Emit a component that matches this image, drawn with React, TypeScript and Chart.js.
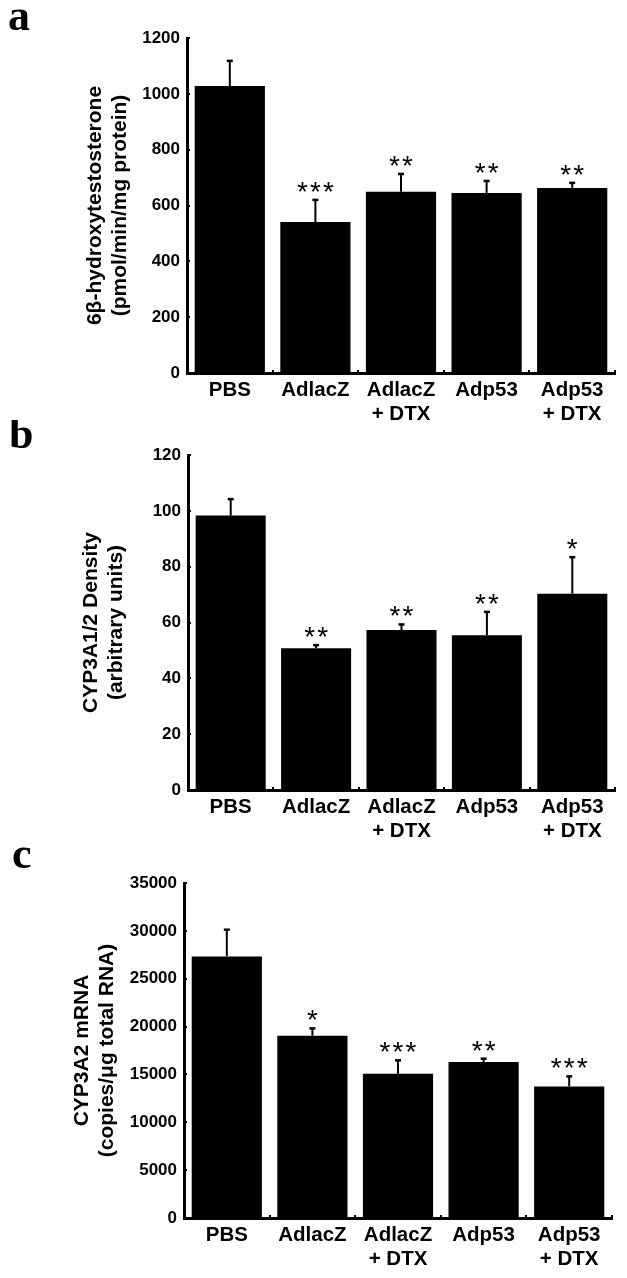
import React, { useEffect, useRef } from "react";
import { Chart, registerables } from "chart.js";

Chart.register(...registerables);

// ---------- data ----------
const categories: string[][] = [["PBS"], ["AdlacZ"], ["AdlacZ", "+ DTX"], ["Adp53"], ["Adp53", "+ DTX"]];

const hydroxyValues = [1028, 541, 649, 645, 663];
const hydroxyErrors = [90, 79, 64, 43, 18];
const hydroxySig = ["", "***", "**", "**", "**"];
const hydroxyTitle = ["6β-hydroxytestosterone", "(pmol/min/mg protein)"];
const hydroxyTicks = { min: 0, max: 1200, step: 200 };

const densityValues = [98.3, 50.8, 57.3, 55.4, 70.3];
const densityErrors = [5.9, 1.1, 2.0, 8.4, 13.1];
const densitySig = ["", "**", "**", "**", "*"];
const densityTitle = ["CYP3A1/2 Density", "(arbitrary units)"];
const densityTicks = { min: 0, max: 120, step: 20 };

const mrnaValues = [27330, 19050, 15080, 16300, 13750];
const mrnaErrors = [2790, 760, 1390, 345, 1045];
const mrnaSig = ["", "*", "***", "**", "***"];
const mrnaTitle = ["CYP3A2 mRNA", "(copies/μg total RNA)"];
const mrnaTicks = { min: 0, max: 35000, step: 5000 };

// ---------- layout ----------
const W = 627;
const SANS = '"Liberation Sans", Arial, sans-serif';

type PanelProps = {
  letter: string;
  top: number;
  height: number;
  area: { left: number; right: number; top: number; bottom: number };
  titleX: number;
  letterPos: { x: number; y: number };
  values: number[];
  errors: number[];
  sig: string[];
  title: string[];
  ticks: { min: number; max: number; step: number };
};

const errorBarPlugin = {
  id: "errorBars",
  afterDatasetsDraw(chart: any, _args: any, opts: any) {
    const ctx = chart.ctx;
    const meta = chart.getDatasetMeta(0);
    const yS = chart.scales.y;
    meta.data.forEach((bar: any, i: number) => {
      const v = opts.values[i];
      const e = opts.errors[i];
      const yTop = yS.getPixelForValue(v + e);
      const x = bar.x;
      ctx.save();
      ctx.strokeStyle = "#000";
      ctx.lineWidth = 2;
      ctx.beginPath();
      ctx.moveTo(x, bar.y);
      ctx.lineTo(x, yTop);
      ctx.stroke();
      ctx.lineWidth = 2.5;
      ctx.beginPath();
      ctx.moveTo(x - 3, yTop);
      ctx.lineTo(x + 3, yTop);
      ctx.stroke();
      const s: string = opts.sig[i];
      if (s) {
        ctx.fillStyle = "#000";
        ctx.font = `28px ${SANS}`;
        ctx.textAlign = "center";
        ctx.textBaseline = "alphabetic";
        const m = ctx.measureText("*");
        const mid = (m.actualBoundingBoxAscent - m.actualBoundingBoxDescent) / 2;
        const cy = yTop - 13;
        for (let k = 0; k < s.length; k++) {
          const sx = x + (k - (s.length - 1) / 2) * 13;
          ctx.fillText("*", sx, cy + mid);
        }
      }
      ctx.restore();
    });
  },
};

const letterPlugin = {
  id: "panelLetter",
  afterDraw(chart: any, _args: any, opts: any) {
    const ctx = chart.ctx;
    ctx.save();
    ctx.fillStyle = "#000";
    ctx.font = 'bold 44px "Liberation Serif", "Times New Roman", serif';
    ctx.textAlign = "left";
    ctx.textBaseline = "alphabetic";
    ctx.fillText(opts.text, opts.x, opts.y);
    ctx.restore();
  },
};

function Panel(p: PanelProps) {
  const ref = useRef<HTMLCanvasElement | null>(null);
  useEffect(() => {
    if (!ref.current) return;
    const xAxisHeight = p.height - p.area.bottom;
    const chart = new Chart(ref.current, {
      type: "bar",
      data: {
        labels: categories,
        datasets: [
          {
            data: p.values,
            backgroundColor: "#000",
            borderWidth: 0,
            categoryPercentage: 1,
            barPercentage: 0.82,
          },
        ],
      },
      options: {
        responsive: false,
        animation: false,
        devicePixelRatio: 1,
        layout: { padding: { left: 0, top: p.area.top, right: W - p.area.right, bottom: 0 } },
        plugins: {
          legend: { display: false },
          tooltip: { enabled: false },
          errorBars: { values: p.values, errors: p.errors, sig: p.sig },
          panelLetter: { text: p.letter, x: p.letterPos.x, y: p.letterPos.y },
        } as any,
        scales: {
          x: {
            offset: true,
            grid: {
              display: true,
              offset: true,
              drawOnChartArea: false,
              drawTicks: true,
              tickLength: -3,
              color: "#000",
              lineWidth: 2,
            },
            border: { display: true, color: "#000", width: 3 },
            ticks: {
              color: "#000",
              padding: 8,
              maxRotation: 0,
              autoSkip: false,
              font: { family: SANS, size: 20.5, weight: "bold", lineHeight: 1.17 },
            },
            afterFit: (scale: any) => {
              scale.height = xAxisHeight;
            },
          },
          y: {
            min: p.ticks.min,
            max: p.ticks.max,
            grid: {
              display: true,
              drawOnChartArea: false,
              drawTicks: true,
              tickLength: -3,
              color: "#000",
              lineWidth: 2,
            },
            border: { display: true, color: "#000", width: 3 },
            ticks: {
              stepSize: p.ticks.step,
              color: "#000",
              padding: 10,
              font: { family: SANS, size: 17, weight: "bold" },
              callback: (v: any) => String(v),
            },
            title: {
              display: true,
              text: p.title,
              color: "#000",
              font: { family: SANS, size: 21, weight: "bold", lineHeight: 1.2 },
              padding: { top: p.titleX - 12.6, bottom: 0 },
            },
            afterFit: (scale: any) => {
              scale.width = p.area.left;
            },
          },
        },
      },
      plugins: [errorBarPlugin, letterPlugin],
    } as any);
    return () => chart.destroy();
  }, []);
  return (
    <canvas
      ref={ref}
      width={W}
      height={p.height}
      style={{ position: "absolute", left: 0, top: p.top, width: W, height: p.height }}
    />
  );
}

export default function App() {
  return (
    <div style={{ position: "absolute", left: 0, top: 0, width: W, height: 1278, background: "#fff" }}>
      <Panel
        letter="a"
        top={0}
        height={420}
        area={{ left: 187, right: 615, top: 38, bottom: 373 }}
        titleX={95}
        letterPos={{ x: 8, y: 30 }}
        values={hydroxyValues}
        errors={hydroxyErrors}
        sig={hydroxySig}
        title={hydroxyTitle}
        ticks={hydroxyTicks}
      />
      <Panel
        letter="b"
        top={420}
        height={420}
        area={{ left: 188, right: 615, top: 35, bottom: 370 }}
        titleX={91}
        letterPos={{ x: 9, y: 28 }}
        values={densityValues}
        errors={densityErrors}
        sig={densitySig}
        title={densityTitle}
        ticks={densityTicks}
      />
      <Panel
        letter="c"
        top={840}
        height={438}
        area={{ left: 184, right: 612, top: 43, bottom: 378 }}
        titleX={82}
        letterPos={{ x: 12, y: 28 }}
        values={mrnaValues}
        errors={mrnaErrors}
        sig={mrnaSig}
        title={mrnaTitle}
        ticks={mrnaTicks}
      />
    </div>
  );
}
